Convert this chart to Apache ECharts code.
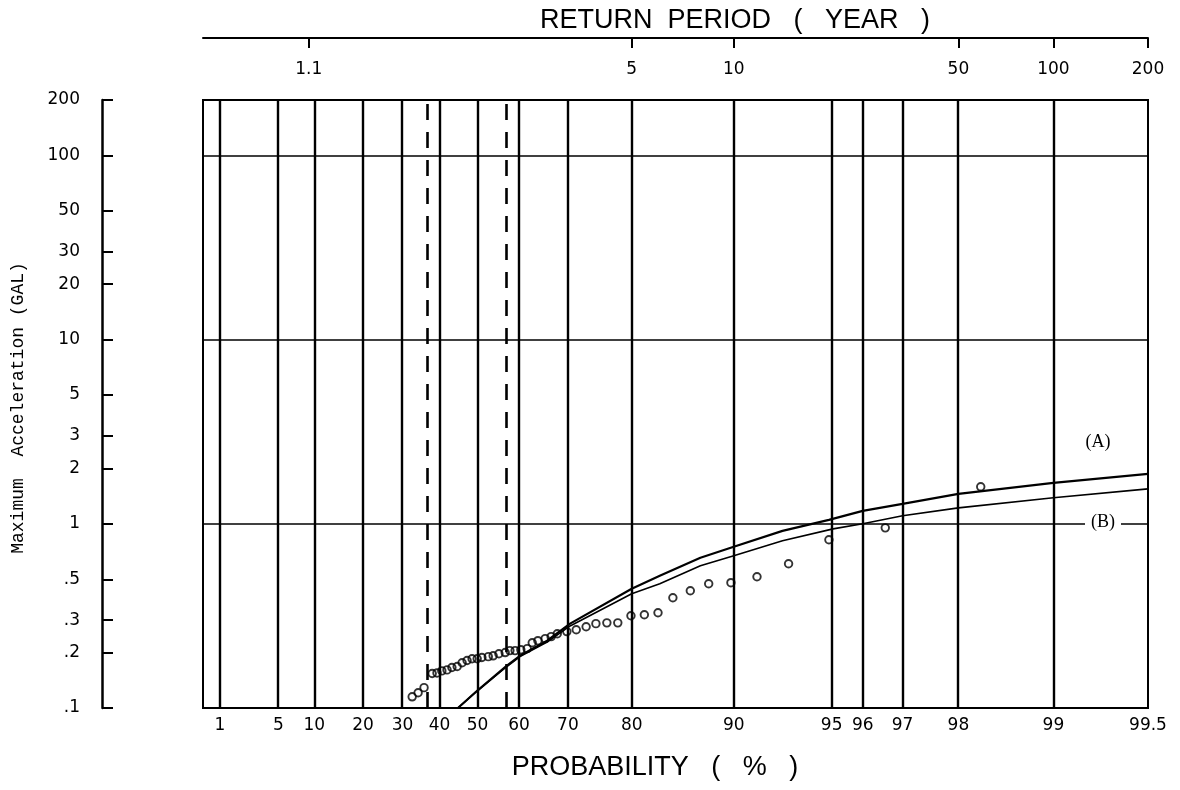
<!DOCTYPE html>
<html><head><meta charset="utf-8">
<script src="https://cdn.jsdelivr.net/npm/echarts@6/dist/echarts.min.js"></script>
<style>html,body{margin:0;padding:0;background:#fff}#c{width:1180px;height:790px}</style>
</head><body><div id="c"></div>
<script>
// ---- axis ticks / labels ----
const probTicks  = [1, 5, 10, 20, 30, 40, 50, 60, 70, 80, 90, 95, 96, 97, 98, 99, 99.5];
const probLabels = ['1','5','10','20','30','40','50','60','70','80','90','95','96','97','98','99','99.5'];
const returnTicks  = [1.1, 5, 10, 50, 100, 200];
const returnLabels = ['1.1','5','10','50','100','200'];
const accelTicks  = [0.1, 0.2, 0.3, 0.5, 1, 2, 3, 5, 10, 20, 30, 50, 100, 200];
const accelLabels = ['.1','.2','.3','.5','1','2','3','5','10','20','30','50','100','200'];
const accelGrid = [1, 10, 100];
const dashedProbs = [36.9, 57.0];

// ---- observed data (probability %, acceleration gal) ----
const obsProb  = [32.6, 34.2, 35.8, 38.0, 39.3, 40.6, 42.0, 43.3, 44.7, 46.0, 47.3, 48.6, 49.9, 51.1, 52.7, 53.9, 55.3, 56.8, 57.9, 59.1, 60.4, 61.8, 62.9, 64.1, 65.6, 66.8, 68.0, 69.8, 71.5, 73.2, 74.8, 76.5, 78.1, 79.9, 81.6, 83.2, 84.8, 86.5, 88.1, 89.8, 91.5, 93.2, 94.9, 96.6, 98.3];
const obsAccel = [0.115, 0.121, 0.129, 0.154, 0.155, 0.159, 0.161, 0.166, 0.168, 0.176, 0.181, 0.185, 0.185, 0.188, 0.190, 0.192, 0.197, 0.200, 0.205, 0.205, 0.207, 0.210, 0.226, 0.232, 0.238, 0.244, 0.253, 0.260, 0.266, 0.276, 0.287, 0.290, 0.290, 0.317, 0.321, 0.329, 0.397, 0.433, 0.473, 0.479, 0.516, 0.607, 0.819, 0.951, 1.588];

// ---- fitted curves ----
const curveAProb  = [44.9, 49.9, 57.2, 60.2, 66.0, 70.4, 80.0, 83.4, 87.4, 90.0, 92.9, 94.9, 96.0, 97.0, 98.0, 99.0, 99.5];
const curveAAccel = [0.100, 0.124, 0.170, 0.192, 0.232, 0.287, 0.444, 0.522, 0.654, 0.750, 0.916, 1.050, 1.176, 1.284, 1.455, 1.669, 1.867];
const curveBProb  = [44.9, 49.9, 57.2, 60.2, 66.0, 70.4, 80.0, 83.4, 87.4, 90.0, 92.9, 95.05, 96.0, 97.0, 98.0, 99.0, 99.5];
const curveBAccel = [0.100, 0.124, 0.168, 0.190, 0.228, 0.279, 0.417, 0.473, 0.592, 0.671, 0.809, 0.939, 1.000, 1.105, 1.221, 1.384, 1.548];

// Gumbel probability-paper scale: reduced variate
const g = p => -Math.log(-Math.log(p / 100));
const T2p = T => 100 * (1 - 1 / T);
const xMin = -1.652, xMax = g(99.5);

function labelFrom(values, labels) {
  return function (v) {
    for (let i = 0; i < values.length; i++) if (Math.abs(values[i] - v) < 1e-6) return labels[i];
    return '';
  };
}
const probVals = probTicks.map(g);
const retVals = returnTicks.map(T => g(T2p(T)));
const accVals = accelTicks.map(a => Math.log10(a));

const numFont = {fontFamily: 'DejaVu Sans', fontSize: 17, color: '#000'};

const chart = echarts.init(document.getElementById('c'), null, {renderer: 'canvas'});
const markLineData = [];
probVals.forEach(v => markLineData.push({xAxis: v, lineStyle: {color: '#000', width: 2.4, type: 'solid'}}));
dashedProbs.forEach(p => markLineData.push({xAxis: g(p), lineStyle: {color: '#000', width: 2.6, type: [16, 12]}}));
accelGrid.forEach(a => markLineData.push({yAxis: a, lineStyle: {color: '#000', width: 1.6, type: 'solid'}}));

chart.setOption({
  animation: false,
  backgroundColor: '#fff',
  grid: {left: 203, right: 32, top: 100, bottom: 82, show: true, borderColor: '#000', borderWidth: 2, outerBoundsMode: 'none'},
  xAxis: [
    {type: 'value', min: xMin, max: xMax, position: 'bottom',
     axisLine: {show: true, onZero: false, lineStyle: {color: '#000', width: 2}},
     axisTick: {show: false}, splitLine: {show: false},
     axisLabel: Object.assign({customValues: probVals, formatter: labelFrom(probVals, probLabels), margin: 9}, numFont)},
    {type: 'value', min: xMin, max: xMax, position: 'top', offset: 62,
     axisLine: {show: true, onZero: false, lineStyle: {color: '#000', width: 2}},
     axisTick: {show: true, inside: true, length: 10, customValues: retVals, lineStyle: {color: '#000', width: 2}},
     splitLine: {show: false},
     axisLabel: Object.assign({inside: true, customValues: retVals, formatter: labelFrom(retVals, returnLabels), margin: 23}, numFont)}
  ],
  yAxis: [
    {type: 'log', min: 0.1, max: 200, show: false, splitLine: {show: false}},
    {type: 'value', min: -1, max: Math.log10(200), position: 'left', offset: 101,
     axisLine: {show: true, onZero: false, lineStyle: {color: '#000', width: 2.5}},
     axisTick: {show: true, inside: true, length: 11, customValues: accVals, lineStyle: {color: '#000', width: 2}},
     splitLine: {show: false},
     axisLabel: Object.assign({customValues: accVals, formatter: labelFrom(accVals, accelLabels), margin: 22}, numFont)}
  ],
  series: [
    {type: 'line', name: 'A', xAxisIndex: 0, yAxisIndex: 0, showSymbol: false, symbol: 'none',
     lineStyle: {color: '#000', width: 2.2}, data: curveAProb.map((p, i) => [g(p), curveAAccel[i]]), z: 3},
    {type: 'line', name: 'B', xAxisIndex: 0, yAxisIndex: 0, showSymbol: false, symbol: 'none',
     lineStyle: {color: '#000', width: 1.6}, data: curveBProb.map((p, i) => [g(p), curveBAccel[i]]), z: 3},
    {type: 'scatter', name: 'obs', xAxisIndex: 0, yAxisIndex: 0, symbol: 'circle', symbolSize: 7.5,
     itemStyle: {color: 'rgba(0,0,0,0)', borderColor: '#000', borderWidth: 1.9},
     data: obsProb.map((p, i) => [g(p), obsAccel[i]]), z: 4,
     markLine: {silent: true, symbol: ['none', 'none'], label: {show: false}, data: markLineData, z: 2}}
  ],
  graphic: [
    {type: 'text', x: 735, y: 21, z: 10, style: {text: 'RETURN  PERIOD   (   YEAR   )', font: '27px "Liberation Sans"', fill: '#000', textAlign: 'center', textVerticalAlign: 'middle'}},
    {type: 'text', x: 655, y: 768, z: 10, style: {text: 'PROBABILITY   (   %   )', font: '27px "Liberation Sans"', fill: '#000', textAlign: 'center', textVerticalAlign: 'middle'}},
    {type: 'text', x: 18, y: 408, rotation: Math.PI / 2, z: 10, style: {text: 'Maximum  Acceleration (GAL)', font: '18px "Liberation Mono"', fill: '#000', textAlign: 'center', textVerticalAlign: 'middle'}},
    {type: 'text', x: 1098, y: 442, z: 10, style: {text: '(A)', font: '18px "Liberation Serif"', fill: '#000', textAlign: 'center', textVerticalAlign: 'middle'}},
    {type: 'text', x: 1103, y: 522, z: 10, style: {text: '(B)', font: '18px "Liberation Serif"', fill: '#000', textAlign: 'center', textVerticalAlign: 'middle', backgroundColor: '#fff', padding: [2, 6]}}
  ]
});
</script>
</body></html>
